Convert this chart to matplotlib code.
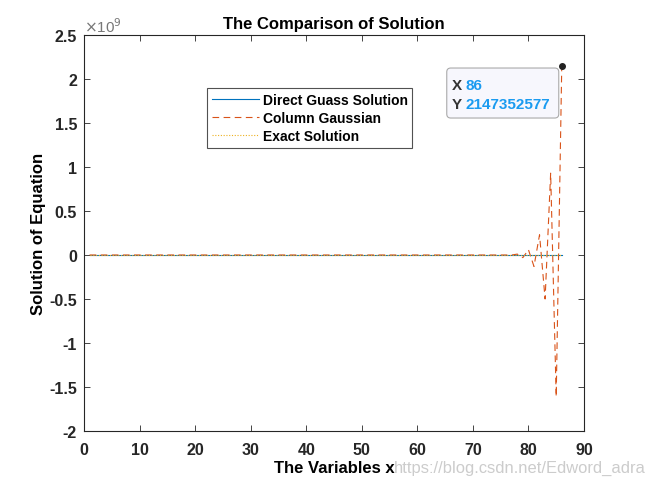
import numpy as np
import matplotlib.pyplot as plt
import matplotlib.transforms as mtransforms
from matplotlib.patches import FancyBboxPatch

plt.rcParams['font.family'] = ['Liberation Sans', 'DejaVu Sans']

# solution values, x = 1..86
x = np.arange(1, 87)
direct_gauss = np.zeros(86)
exact = np.zeros(86)
# column gaussian blows up near the end (units of 1e9)
column_tail = [0.01, -0.03, 0.06, -0.13, 0.23, -0.50, 0.93, -1.61, 2.147352577]
column_gauss = np.zeros(86)
column_gauss[-len(column_tail):] = column_tail
column_gauss = column_gauss * 1e9

tip_x = 86
tip_y = 2147352577

fig = plt.figure(figsize=(6.47, 4.85), dpi=100)
ax = fig.add_axes([0.1298, 0.1093, 0.7728, 0.8165])

ax.plot(x, direct_gauss, color='#0072BD', lw=0.8, label='Direct Guass Solution')
ax.plot(x, column_gauss, color='#D95319', lw=0.8, ls=(0, (6, 4)), label='Column Gaussian')
ax.plot(x, exact, color='#EDB120', lw=0.8, ls=(0, (1, 1.5)), label='Exact Solution')

ax.set_xlim(0, 90)
ax.set_ylim(-2e9, 2.5e9)
ax.set_xticks(np.arange(0, 91, 10))
yt = np.arange(-2, 2.51, 0.5)
ax.set_yticks(yt * 1e9)
ax.set_yticklabels(['%g' % v for v in yt])

for s in ax.spines.values():
    s.set_linewidth(0.8)
    s.set_color('#262626')
ax.tick_params(direction='in', length=4, width=0.6, labelsize=11.5, colors='#262626',
               top=True, right=True)
ax.tick_params(axis='x', pad=8)
ax.tick_params(axis='y', pad=5)
for lab in ax.get_xticklabels() + ax.get_yticklabels():
    lab.set_fontweight('bold')

ax.text(0, 1.0, r'$\times$10$^9$', transform=ax.transAxes, fontsize=11, color='#777777',
        ha='left', va='bottom')

ax.set_title('The Comparison of Solution', fontsize=12, fontweight='bold', pad=5)
ax.set_xlabel('The Variables x', fontsize=12, fontweight='bold', labelpad=2)
ax.set_ylabel('Solution of Equation', fontsize=12, fontweight='bold', labelpad=2)

leg = ax.legend(loc='upper left', bbox_to_anchor=(0.246, 0.866),
                prop={'weight': 'bold', 'size': 10}, frameon=True, fancybox=False,
                borderpad=0.35, labelspacing=0.3, handlelength=3.4, handletextpad=0.25,
                borderaxespad=0)
leg.get_frame().set_edgecolor('#262626')
leg.get_frame().set_linewidth(0.8)

# data tip, laid out in inches relative to the tip point
ax.plot(tip_x, tip_y, 'o', color='#222222', ms=4, zorder=5)
tip_trans = fig.dpi_scale_trans + mtransforms.ScaledTranslation(tip_x, tip_y, ax.transData)
box = FancyBboxPatch((-1.15, -0.52), 1.12, 0.50, boxstyle='round,pad=0,rounding_size=0.04',
                     transform=tip_trans, fc='#f7f7fd', ec='#aaaaaa', lw=0.8, zorder=6,
                     clip_on=False)
ax.add_patch(box)
for row, (name, val) in enumerate([('X', '86'), ('Y', '%d' % tip_y)]):
    yy = -0.19 - 0.19 * row
    ax.text(-1.10, yy, name, transform=tip_trans, fontsize=11, fontweight='bold',
            color='#333333', va='center', ha='left', zorder=7)
    ax.text(-0.96, yy, val, transform=tip_trans, fontsize=11, fontweight='bold',
            color='#1a9bf0', va='center', ha='left', zorder=7)

fig.text(0.609, 0.018, 'https://blog.csdn.net/Edword_adra', fontsize=11.9, color='#cccccc',
         ha='left', va='bottom')

fig.savefig('out.png', dpi=100)
